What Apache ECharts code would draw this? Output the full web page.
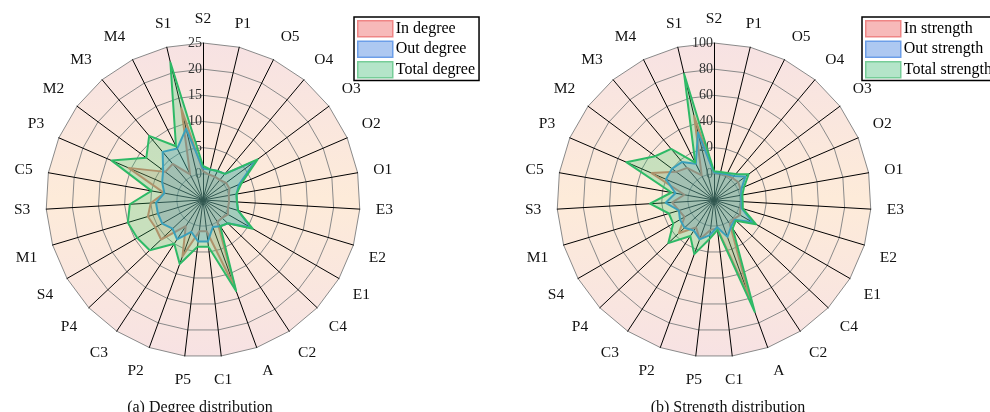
<!DOCTYPE html>
<html>
<head>
<meta charset="utf-8">
<script src="https://cdn.jsdelivr.net/npm/echarts@6/dist/echarts.min.js"></script>
<style>
  html, body { margin: 0; padding: 0; background: #fff; }
  #main { width: 990px; height: 412px; }
</style>
</head>
<body>
<div id="main"></div>
<script>
// Nodes, listed clockwise starting from the top axis
const nodes = ['S2', 'P1', 'O5', 'O4', 'O3', 'O2', 'O1', 'E3', 'E2', 'E1', 'C4', 'C2', 'A', 'C1',
  'P5', 'P2', 'C3', 'P4', 'S4', 'M1', 'S3', 'C5', 'P3', 'M2', 'M3', 'M4', 'S1'];

// (a) degree distribution
const inDegree = [0.5, 0, 0, 0, 0.5, 0.5, 0, 0, 0, 0.5, 0, 0, 13, 1, 1, 6.5, 1, 6, 5.5, 6, 5, 2.5, 10.5, 4, 4, 0.5, 13];
const outDegree = [1, 1, 1.2, 1.5, 7.5, 2.5, 1.5, 1.5, 2, 5.5, 1.5, 1, 0.5, 3, 3, 1.5, 4, 3, 4, 4, 4, 2.5, 3.5, 4.5, 7, 6, 9];
const totalDegree = [1.5, 1, 1.2, 1.5, 8, 3, 1.5, 1.5, 2, 6, 1.5, 1, 13.5, 4, 4, 8, 5, 9, 9.5, 10, 9, 5, 14, 8.5, 11, 6.5, 22];

// (b) strength distribution
const inStrength = [1, 1, 1, 2, 3, 2, 1, 1, 1, 3, 1, 2, 60, 2, 3, 12, 5, 17, 6, 8, 12, 3, 32, 16, 12, 1, 46];
const outStrength = [1, 1, 2, 4, 10, 3, 1, 1, 2, 14, 2, 4, 10, 1, 7, 12, 8, 11, 10, 8, 17, 10, 20, 20, 18, 11, 33];
const totalStrength = [2, 2, 3, 6, 13, 5, 2, 2, 3, 17, 3, 6, 71, 3, 10, 24, 13, 28, 16, 16, 29, 13, 53, 36, 31, 12, 79];

const degreeTicks = { min: -5, max: 25, step: 5 };
const strengthTicks = { min: -20, max: 100, step: 20 };

const FONT = '"Liberation Serif", "Times New Roman", serif';
const R = 157;
const CY = 200;

// radar indicators run counter-clockwise, so keep the first axis and reverse the rest
function ccw(arr) { return [arr[0]].concat(arr.slice(1).reverse()); }

function makeIndicators(t) {
  return ccw(nodes).map((n, i) => {
    const ind = { name: n, min: t.min, max: t.max };
    if (i === 0) {
      ind.axisLabel = {
        show: true, margin: 1, color: '#333', fontFamily: FONT, fontSize: 14,
        formatter: v => (v < 0 ? '' : String(v))
      };
    }
    return ind;
  });
}

function bgGradient() {
  return new echarts.graphic.LinearGradient(0, CY - R, 0, CY + R, [
    { offset: 0, color: '#f7e2e3' },
    { offset: 0.5, color: '#fdebd9' },
    { offset: 1, color: '#f7e2e3' }
  ], true);
}

function radarOpt(cx, t) {
  return {
    center: [cx, CY],
    radius: R,
    startAngle: 90,
    shape: 'polygon',
    splitNumber: (t.max - t.min) / t.step,
    indicator: makeIndicators(t),
    axisName: { show: false },
    axisLabel: { show: false },
    axisTick: { show: false },
    axisLine: { lineStyle: { color: '#000', width: 1 } },
    splitLine: { lineStyle: { color: '#8a8a8a', width: 1 } },
    splitArea: { show: true, areaStyle: { color: [bgGradient()] } }
  };
}

function polarOpt(cx) {
  return { center: [cx, CY], radius: R };
}

const step = 360 / nodes.length;

function angleAxisOpt(idx) {
  return {
    polarIndex: idx,
    type: 'category',
    data: nodes,
    clockwise: true,
    startAngle: 90 + step / 2,
    axisLine: { show: false },
    axisTick: { show: false },
    splitLine: { show: false },
    axisLabel: { interval: 0, margin: 16, color: '#111', fontFamily: FONT, fontSize: 15.5 }
  };
}

function radiusAxisOpt(idx) {
  return { polarIndex: idx, show: false, min: 0, max: 1 };
}

const palette = [
  { line: '#d8826c', fill: 'rgba(235,110,100,0.24)', legFill: '#f7b9b9', legBorder: '#ef8585' },
  { line: '#3c96d6', fill: 'rgba(60,125,225,0.36)', legFill: '#adc8f1', legBorder: '#6c9ee8' },
  { line: '#2db866', fill: 'rgba(55,200,110,0.38)', legFill: '#b4e5c9', legBorder: '#76cd98' }
];

function radarSeries(radarIndex, names, arrays) {
  return {
    type: 'radar',
    radarIndex: radarIndex,
    symbol: 'none',
    z: 2,
    data: arrays.map((arr, k) => ({
      name: names[k],
      value: ccw(arr),
      lineStyle: { color: palette[k].line, width: 2 },
      itemStyle: { color: palette[k].line },
      areaStyle: { color: palette[k].fill }
    }))
  };
}

function legendOpt(left, names) {
  return {
    left: left, top: 17,
    orient: 'vertical',
    itemWidth: 35, itemHeight: 16, itemGap: 3,
    padding: [3, 4, 2, 3],
    borderColor: '#000', borderWidth: 1.5,
    backgroundColor: '#fff',
    icon: 'rect',
    textStyle: { fontFamily: FONT, fontSize: 16, color: '#000', padding: [0, 0, 0, -2] },
    data: names.map((n, k) => ({
      name: n,
      itemStyle: { color: palette[k].legFill, borderColor: palette[k].legBorder, borderWidth: 1.5 }
    })),
    selectedMode: false
  };
}

const degreeNames = ['In degree', 'Out degree', 'Total degree'];
const strengthNames = ['In strength', 'Out strength', 'Total strength'];

const chart = echarts.init(document.getElementById('main'), null, { renderer: 'canvas' });
chart.setOption({
  animation: false,
  backgroundColor: '#fff',
  title: [
    { text: '(a) Degree distribution', left: 195, top: 395, textAlign: 'center',
      textStyle: { fontFamily: FONT, fontSize: 16, fontWeight: 'normal', color: '#111' } },
    { text: '(b) Strength distribution', left: 723, top: 395, textAlign: 'center',
      textStyle: { fontFamily: FONT, fontSize: 16, fontWeight: 'normal', color: '#111' } }
  ],
  radar: [radarOpt(203, degreeTicks), radarOpt(714, strengthTicks)],
  polar: [polarOpt(203), polarOpt(714)],
  angleAxis: [angleAxisOpt(0), angleAxisOpt(1)],
  radiusAxis: [radiusAxisOpt(0), radiusAxisOpt(1)],
  legend: [legendOpt(354, degreeNames), legendOpt(862, strengthNames)],
  series: [
    radarSeries(0, degreeNames, [inDegree, outDegree, totalDegree]),
    radarSeries(1, strengthNames, [inStrength, outStrength, totalStrength])
  ]
});
</script>
</body>
</html>
